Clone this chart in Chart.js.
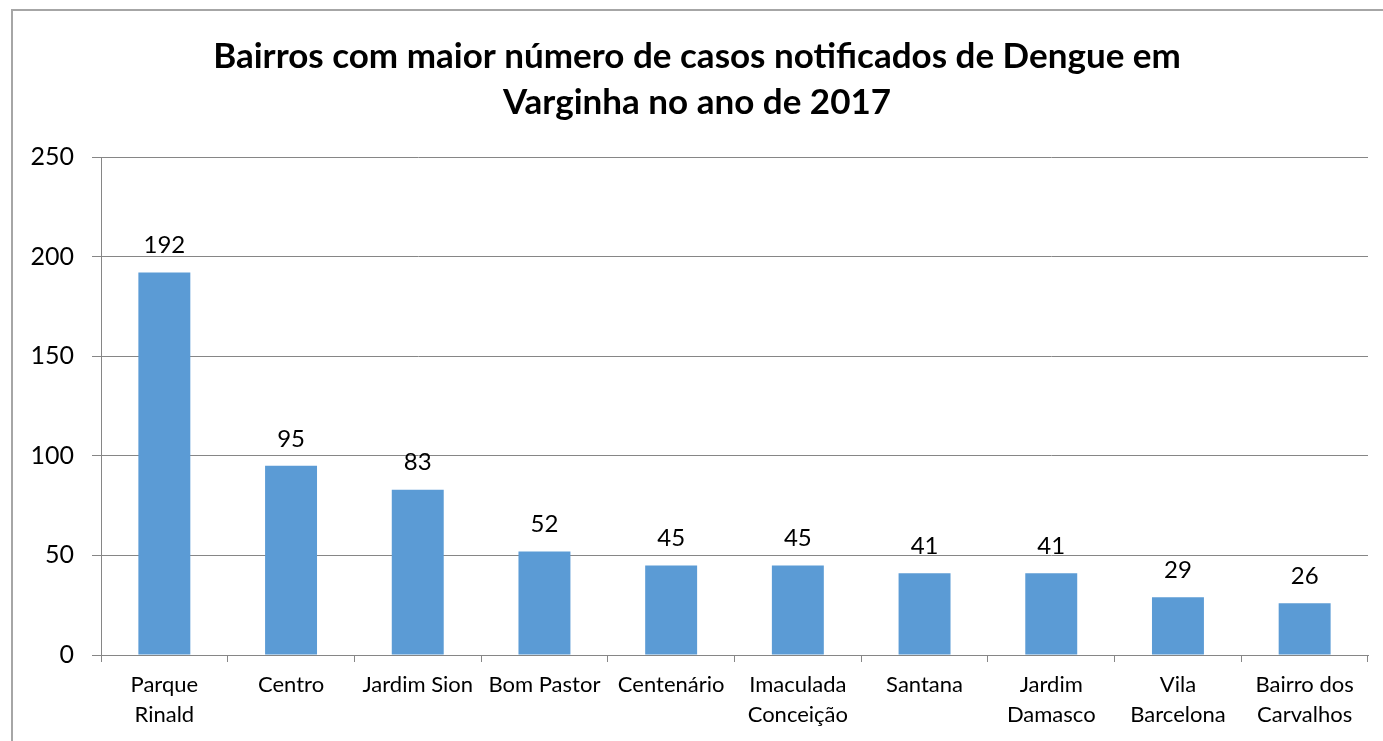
<!DOCTYPE html>
<html>
<head>
<meta charset="utf-8">
<script src="https://cdn.jsdelivr.net/npm/chart.js@4"></script>
<style>
  html, body { margin: 0; padding: 0; background: #fff; }
  #wrap { width: 1383px; height: 741px; position: relative; }
</style>
</head>
<body>
<div id="wrap"><canvas id="chartDengue"></canvas></div>
<script>
const bairros = [
  ["Parque", "Rinald"],
  "Centro",
  "Jardim Sion",
  "Bom Pastor",
  "Centenário",
  ["Imaculada", "Conceição"],
  "Santana",
  ["Jardim", "Damasco"],
  ["Vila", "Barcelona"],
  ["Bairro dos", "Carvalhos"]
];
const casos = [192, 95, 83, 52, 45, 45, 41, 41, 29, 26];
const yTicks = [0, 50, 100, 150, 200, 250];

const fontFamily = "Lato, 'Open Sans', sans-serif";

// moldura cinza (esquerda e topo) e rótulos dos valores
const frame = {
  id: "frame",
  beforeDraw(chart) {
    const ctx = chart.ctx;
    ctx.save();
    ctx.strokeStyle = "#a6a6a6";
    ctx.lineWidth = 2;
    ctx.beginPath();
    ctx.moveTo(12, 741);
    ctx.lineTo(12, 10);
    ctx.lineTo(1383, 10);
    ctx.stroke();
    ctx.restore();
  },
  afterDatasetsDraw(chart) {
    const ctx = chart.ctx;
    const meta = chart.getDatasetMeta(0);
    ctx.save();
    ctx.fillStyle = "#000";
    ctx.font = "24px " + fontFamily;
    ctx.textAlign = "center";
    ctx.textBaseline = "bottom";
    meta.data.forEach((bar, i) => {
      ctx.fillText(casos[i], bar.x, bar.y - 15);
    });
    ctx.restore();
  }
};

const data = {
  labels: bairros,
  datasets: [
    {
      label: "Casos",
      data: casos,
      backgroundColor: "#5b9bd5",
      borderWidth: 0,
      barPercentage: 0.41,
      categoryPercentage: 1,
    },
  ],
};

const config = {
  type: "bar",
  data,
  options: {
    responsive: false,
    animation: false,
    layout: { padding: { left: 26, right: 15, top: 0, bottom: 0 } },
    plugins: {
      legend: { display: false },
      tooltip: { enabled: false },
      title: {
        display: true,
        text: ["Bairros com maior número de casos notificados de Dengue em", "Varginha no ano de 2017"],
        color: "#000",
        font: { family: fontFamily, size: 35, weight: "bold", lineHeight: 1.33 },
        padding: { top: 33, bottom: 31 },
      },
    },
    scales: {
      x: {
        grid: { display: true, drawOnChartArea: false, color: "#868686", tickLength: 7, offset: true },
        border: { color: "#868686", width: 1 },
        ticks: { color: "#000", font: { family: fontFamily, size: 22, lineHeight: 1.36 }, padding: 8, maxRotation: 0, autoSkip: false },
        afterFit(scale) { scale.height = 86; },
      },
      y: {
        min: 0,
        max: 250,
        afterBuildTicks(scale) { scale.ticks = yTicks.map(v => ({ value: v })); },
        grid: { color: "#868686", tickLength: 9 },
        border: { color: "#868686", width: 1 },
        ticks: { color: "#000", font: { family: fontFamily, size: 25 }, padding: 18 },
        afterFit(scale) { scale.width = 75; },
      },
    },
  },
  plugins: [frame],
};

const canvas = document.getElementById("chartDengue");
canvas.width = 1383;
canvas.height = 741;
const chartDengue = new Chart(canvas, config);
</script>
</body>
</html>
